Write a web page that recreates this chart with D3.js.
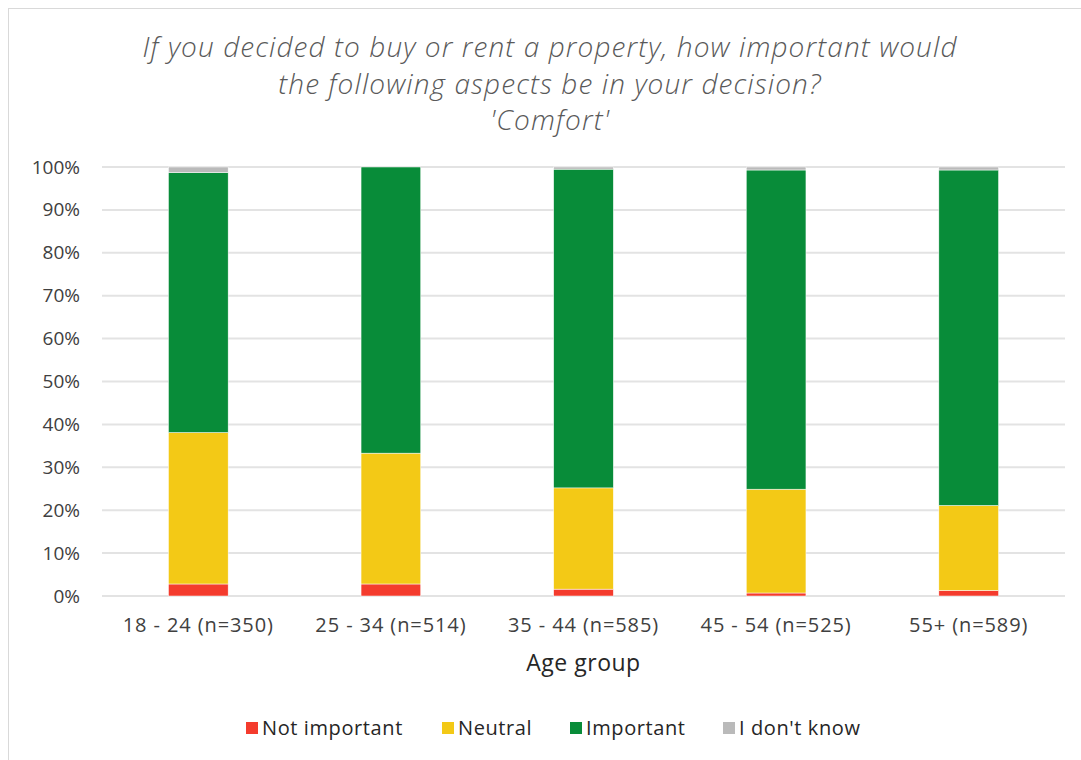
<!DOCTYPE html>
<html>
<head>
<meta charset="utf-8">
<script src="https://cdn.jsdelivr.net/npm/d3@7"></script>
<style>
  body { margin: 0; background: #fff; }
  text { font-family: "Open Sans", "Noto Sans", sans-serif; }
</style>
</head>
<body>
<div id="chart"></div>
<script>
// Data (percent of respondents)
var groups = ["18 - 24 (n=350)", "25 - 34 (n=514)", "35 - 44 (n=585)", "45 - 54 (n=525)", "55+ (n=589)"];
var notImportant = [2.8, 2.8, 1.6, 0.7, 1.3];
var neutral = [35.3, 30.5, 23.6, 24.2, 19.8];
var important = [60.6, 66.7, 74.3, 74.4, 78.2];
var dontKnow = [1.3, 0.0, 0.5, 0.7, 0.7];
var seriesNames = ["Not important", "Neutral", "Important", "I don't know"];
var colors = ["#f43b2d", "#f3c916", "#088c39", "#bababa"];
var yTicks = [0, 10, 20, 30, 40, 50, 60, 70, 80, 90, 100];
var titleLines = ["If you decided to buy or rent a property, how important would",
  "the following aspects be in your decision?", "'Comfort'"];

var width = 1081, height = 760;
var mLeft = 102, mRight = 1065, mTop = 167, mBottom = 596;

var rows = groups.map(function(g, i) {
  return {group: g, "Not important": notImportant[i], "Neutral": neutral[i],
    "Important": important[i], "I don't know": dontKnow[i]};
});
var stacked = d3.stack().keys(seriesNames)(rows);

var svg = d3.select("#chart").append("svg")
  .attr("width", width)
  .attr("height", height);

// outer border
svg.append("rect")
  .attr("x", 8.5).attr("y", 8.5)
  .attr("width", width + 10).attr("height", height + 10)
  .attr("fill", "#fff")
  .attr("stroke", "#d9d9d9")
  .attr("stroke-width", 1);

var x = d3.scaleBand().domain(groups).range([mLeft, mRight]).paddingInner(0.69).paddingOuter(0.345);
var y = d3.scaleLinear().domain([0, 100]).range([mBottom, mTop]);

// gridlines
svg.append("g").selectAll("line")
  .data(yTicks)
  .enter().append("line")
  .attr("x1", mLeft).attr("x2", mRight)
  .attr("y1", function(d) { return y(d); })
  .attr("y2", function(d) { return y(d); })
  .attr("stroke", "#e3e3e3")
  .attr("stroke-width", 2);

// y axis labels
var yAxis = d3.axisLeft(y)
  .tickValues(yTicks)
  .tickSize(0)
  .tickPadding(22)
  .tickFormat(function(d) { return d + "%"; });
svg.append("g")
  .attr("transform", "translate(" + mLeft + ",0)")
  .call(yAxis)
  .call(function(g) { g.select(".domain").remove(); })
  .selectAll("text")
  .attr("font-size", 19)
  .attr("fill", "#404040")
  .style("font-family", "'Open Sans', sans-serif");

// bars
svg.append("g").selectAll("g")
  .data(stacked)
  .enter().append("g")
  .attr("fill", function(d, i) { return colors[i]; })
  .selectAll("rect")
  .data(function(d) { return d; })
  .enter().append("rect")
  .attr("x", function(d) { return x(d.data.group); })
  .attr("width", x.bandwidth())
  .attr("y", function(d) { return y(d[1]); })
  .attr("height", function(d) { return y(d[0]) - y(d[1]); })
  .attr("stroke", "#fff")
  .attr("stroke-width", 0.5);

// x axis labels
var xAxis = d3.axisBottom(x).tickSize(0).tickPadding(22);
svg.append("g")
  .attr("transform", "translate(0," + mBottom + ")")
  .call(xAxis)
  .call(function(g) { g.select(".domain").remove(); })
  .selectAll("text")
  .attr("font-size", 20)
  .attr("letter-spacing", 0.9)
  .attr("fill", "#404040")
  .style("font-family", "'Open Sans', sans-serif");

// axis title
svg.append("text")
  .attr("x", x.range()[0] + (x.range()[1] - x.range()[0]) / 2)
  .attr("y", 671)
  .attr("text-anchor", "middle")
  .attr("font-size", 23)
  .attr("letter-spacing", 0.5)
  .attr("fill", "#262626")
  .text("Age group");

// chart title
svg.append("g").selectAll("text")
  .data(titleLines)
  .enter().append("text")
  .attr("x", 550)
  .attr("y", function(d, i) { return 57 + i * 36.5; })
  .attr("text-anchor", "middle")
  .attr("font-size", 28)
  .attr("letter-spacing", 1.1)
  .attr("font-style", "italic")
  .attr("font-weight", 300)
  .attr("fill", "#595959")
  .text(function(d) { return d; });

// legend
var legendX = [246, 442, 570, 723];
var legend = svg.append("g").selectAll("g")
  .data(seriesNames)
  .enter().append("g")
  .attr("transform", function(d, i) { return "translate(" + legendX[i] + ",722)"; });
legend.append("rect")
  .attr("width", 12).attr("height", 12)
  .attr("fill", function(d, i) { return colors[i]; });
legend.append("text")
  .attr("x", 16).attr("y", 13)
  .attr("font-size", 20)
  .attr("letter-spacing", 0.6)
  .attr("fill", "#262626")
  .text(function(d) { return d; });
</script>
</body>
</html>
